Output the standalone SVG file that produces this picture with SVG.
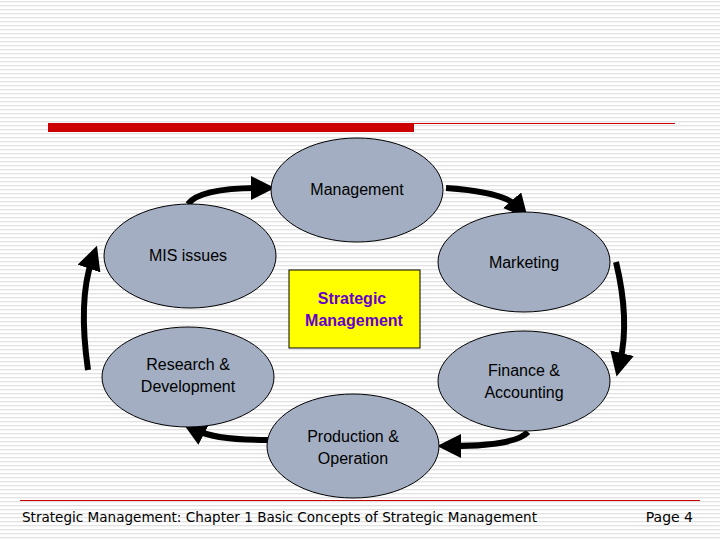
<svg xmlns="http://www.w3.org/2000/svg" width="720" height="540" viewBox="0 0 720 540">
<defs>
<pattern id="bg" width="720" height="4" patternUnits="userSpaceOnUse"><rect width="720" height="4" fill="#fff"/><rect y="1" width="720" height="1.3" fill="#e2e2e2"/></pattern>
<marker id="ah" markerWidth="4" markerHeight="4" refX="1.5" refY="2" orient="auto" markerUnits="strokeWidth"><path d="M0,0 L4,2 L0,4 Z" fill="#000"/></marker>
</defs>
<style>
.n{fill:#a3aec2;stroke:#000;stroke-width:1}
.t{font-family:"Liberation Sans",Arial,sans-serif;font-size:16px;fill:#000;text-anchor:middle}
.c path{fill:none;stroke:#000;stroke-width:6;marker-end:url(#ah)}
</style>
<rect width="720" height="540" fill="url(#bg)"/>
<rect x="48" y="123" width="366" height="9" fill="#cc0000"/>
<line x1="414" y1="123.5" x2="675" y2="123.5" stroke="#cc0000" stroke-width="1"/>
<line x1="20" y1="500.5" x2="700" y2="500.5" stroke="#cc0000" stroke-width="1"/>
<g class="c">
<path d="M188,204 Q200,188 260,188"/>
<path d="M446,188 Q505,192 518,207"/>
<path d="M616,262 Q630,320 620,362"/>
<path d="M528,432 Q515,446 452,446"/>
<path d="M268,440 Q215,440 196,430"/>
<path d="M88,370 Q78,300 92,260"/>
</g>
<g id="management"><ellipse class="n" cx="357" cy="190" rx="86" ry="52"/><text class="t" x="357" y="195">Management</text></g>
<g id="mis"><ellipse class="n" cx="190" cy="256" rx="86" ry="52"/><text class="t" x="188" y="261">MIS issues</text></g>
<g id="marketing"><ellipse class="n" cx="524" cy="262" rx="86" ry="50"/><text class="t" x="524" y="268">Marketing</text></g>
<g id="rd"><ellipse class="n" cx="188" cy="377" rx="86" ry="50"/><text class="t" x="188" y="370">Research &amp;</text><text class="t" x="188" y="392">Development</text></g>
<g id="finance"><ellipse class="n" cx="524" cy="381" rx="86" ry="50"/><text class="t" x="524" y="376">Finance &amp;</text><text class="t" x="524" y="398">Accounting</text></g>
<g id="production"><ellipse class="n" cx="353" cy="446" rx="86" ry="52"/><text class="t" x="353" y="442">Production &amp;</text><text class="t" x="353" y="464">Operation</text></g>
<g id="strategic"><rect x="289" y="270" width="131" height="78" fill="#ffff00" stroke="#000" stroke-width="1"/><text class="t" x="352" y="304" style="fill:#6600cc;font-weight:bold">Strategic</text><text class="t" x="354" y="326" style="fill:#6600cc;font-weight:bold">Management</text></g>
<text x="22" y="522" textLength="515" lengthAdjust="spacingAndGlyphs" style="font-family:'DejaVu Sans',sans-serif;font-size:14px;fill:#000">Strategic Management: Chapter 1 Basic Concepts of Strategic Management</text>
<text x="693" y="522" style="font-family:'DejaVu Sans',sans-serif;font-size:14px;fill:#000;text-anchor:end">Page 4</text>
</svg>
